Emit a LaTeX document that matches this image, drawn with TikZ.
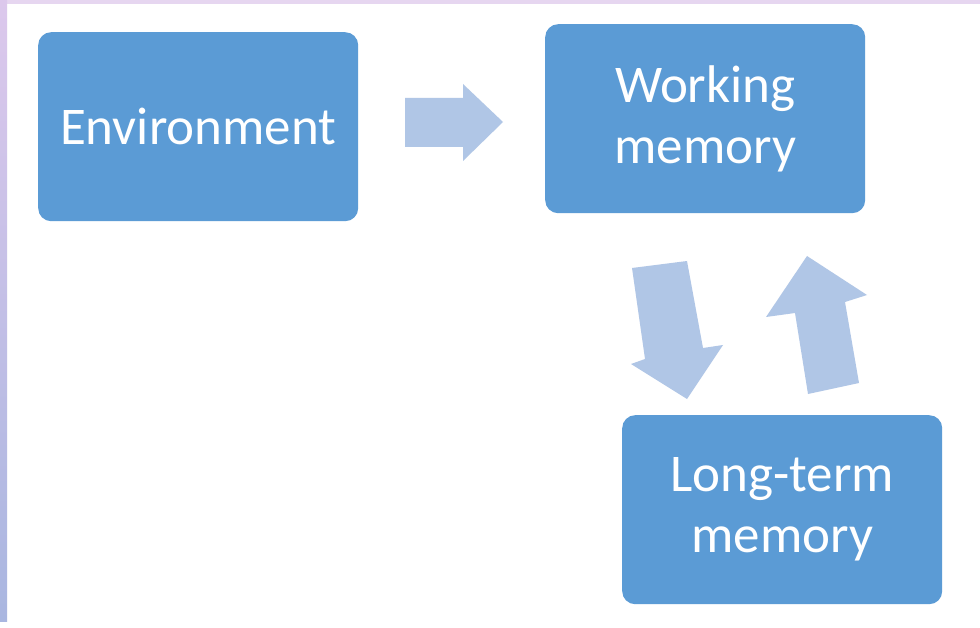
\documentclass[tikz,border=0pt]{standalone}
\usepackage{fontspec}
\setmainfont{Carlito}
\definecolor{boxblue}{HTML}{5B9BD5}
\definecolor{arrblue}{HTML}{B0C6E6}
\definecolor{stripA}{HTML}{DCC8EC}
\definecolor{stripB}{HTML}{A9B6E0}
\definecolor{topstrip}{HTML}{E6D6F0}
\begin{document}
\begin{tikzpicture}[x=1pt,y=-1pt,
  membox/.style={fill=boxblue, rounded corners=13pt, minimum width=320pt, minimum height=189pt,
    inner sep=0pt, text=white, align=center, font=\fontsize{53}{61}\selectfont, anchor=north west},
  blockarrow/.style={fill=arrblue, draw=none}]
\useasboundingbox (0,0) rectangle (980,628);
\fill[white] (0,0) rectangle (980,628);
\fill[topstrip] (0,0) rectangle (980,4);
\shade[top color=stripA, bottom color=stripB] (0,0) rectangle (7,621);
\node[membox] (env) at (38,32) {Environment};
\node[membox] (wm) at (545,24) {Working\\memory};
\node[membox] (ltm) at (622,415) {Long-term\\memory};
% right arrow
\fill[blockarrow] (405,98) -- (463,98) -- (463,84) -- (503,122) -- (463,161) -- (463,147) -- (405,147) -- cycle;
% down arrow (working -> long-term)
\fill[blockarrow] (632,268) -- (687,261) -- (703,348) -- (723,345) -- (687,399) -- (631,364) -- (645,359) -- cycle;
% up arrow (long-term -> working)
\fill[blockarrow] (808,394) -- (859,383) -- (845,302) -- (867,295) -- (807,256) -- (766,317) -- (795,313) -- cycle;
\end{tikzpicture}
\end{document}
